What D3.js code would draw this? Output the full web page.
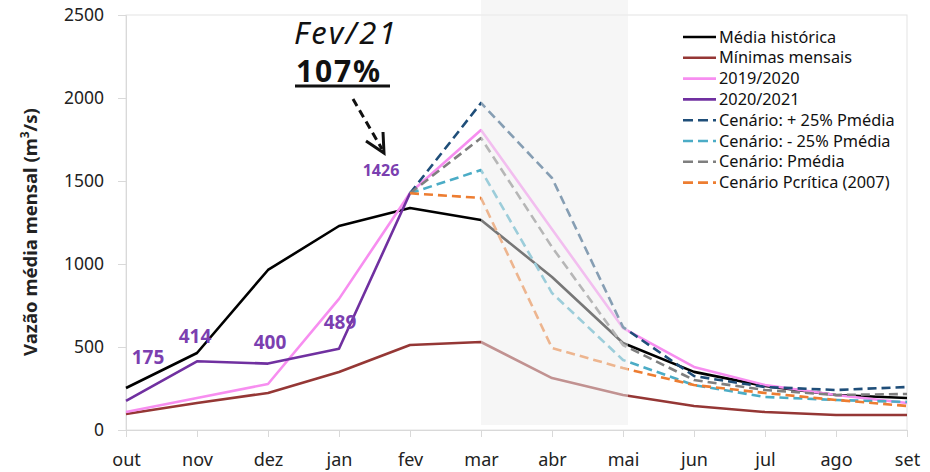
<!DOCTYPE html>
<html><head><meta charset="utf-8">
<script src="https://cdn.jsdelivr.net/npm/d3@7"></script>
<style>body{margin:0;background:#fff}svg{display:block}text{font-family:"Noto Sans",sans-serif}</style>
</head><body><svg id="c" width="930" height="472"></svg>
<script>
const months = ["out","nov","dez","jan","fev","mar","abr","mai","jun","jul","ago","set"];
const yTicks = [0,500,1000,1500,2000,2500];
const mediaHistorica = [253,464,964,1229,1337,1265,922,524,350,265,211,193];
const minimasMensais = [96,163,223,349,512,530,313,211,145,108,90,90];
const s2019_2020 = [108,193,277,790,1428,1807,1210,614,380,271,211,163];
const s2020_2021 = [175,414,400,489,1426,null,null,null,null,null,null,null];
const cenMais25 = [null,null,null,null,1426,1970,1518,620,325,259,241,259];
const cenMenos25 = [null,null,null,null,1426,1566,825,422,271,199,181,169];
const cenPmedia = [null,null,null,null,1426,1759,1102,512,301,241,211,217];
const cenPcritica = [null,null,null,null,1426,1398,494,373,271,223,181,145];
const dataLabels = [175,414,400,489,1426];

const series = [
  {name:"Média histórica", values:mediaHistorica, color:"#000000", dash:null},
  {name:"Mínimas mensais", values:minimasMensais, color:"#953735", dash:null},
  {name:"2019/2020", values:s2019_2020, color:"#f78ef0", dash:null},
  {name:"2020/2021", values:s2020_2021, color:"#7030a0", dash:null},
  {name:"Cenário: + 25% Pmédia", values:cenMais25, color:"#1f4e79", dash:"9,5"},
  {name:"Cenário: - 25% Pmédia", values:cenMenos25, color:"#4bacc6", dash:"9,5"},
  {name:"Cenário: Pmédia", values:cenPmedia, color:"#7f7f7f", dash:"9,5"},
  {name:"Cenário Pcrítica (2007)", values:cenPcritica, color:"#ed7d31", dash:"9,5"}
];

const svg = d3.select("#c");
const x = d3.scalePoint().domain(months).range([126,907]);
const y = d3.scaleLinear().domain([0,2500]).range([430,15]);

// frame
svg.append("rect").attr("x",126).attr("y",15).attr("width",907-126).attr("height",415)
  .attr("fill","none").attr("stroke","#e3e3e3").attr("stroke-width",1);

// y axis
const ya = svg.append("g").attr("transform","translate(126,0)")
  .call(d3.axisLeft(y).tickValues(yTicks).tickSize(8).tickPadding(14).tickFormat(d3.format("d")));
ya.select(".domain").attr("stroke","#d9d9d9");
ya.selectAll(".tick line").attr("stroke","#d9d9d9");
ya.selectAll("text").attr("font-size",17.5).attr("fill","#222");

// x axis
const xa = svg.append("g").attr("transform","translate(0,430)")
  .call(d3.axisBottom(x).tickSize(7).tickPadding(16));
xa.select(".domain").attr("stroke","#d9d9d9");
xa.selectAll(".tick line").attr("stroke","#d9d9d9");
xa.selectAll("text").attr("font-size",18).attr("fill","#222");

// y title
svg.append("text").attr("transform","translate(37,232) rotate(-90)")
  .attr("text-anchor","middle").attr("font-size",18.5).attr("font-weight","bold").attr("fill","#222")
  .html('Vazão média mensal (m<tspan baseline-shift="super" font-size="12">3</tspan>/s)');

// lines
const line = d3.line().defined(d=>d!=null).x((d,i)=>x(months[i])).y(d=>y(d));
series.forEach(s=>{
  svg.append("path").datum(s.values).attr("d",line)
    .attr("fill","none").attr("stroke",s.color).attr("stroke-width",2.6)
    .attr("stroke-dasharray",s.dash).attr("stroke-linejoin","round");
});

// shade overlay
svg.append("rect").attr("x",x("mar")).attr("y",0).attr("width",x("mai")-x("mar")+5).attr("height",425)
  .attr("fill","#eeeeee").attr("opacity",0.5);

// data labels
const labelPos = [[148,364],[195,343],[270,349],[340,329]];
dataLabels.slice(0,4).forEach((v,i)=>{
  svg.append("text").attr("x",labelPos[i][0]).attr("y",labelPos[i][1]).attr("text-anchor","middle")
    .attr("font-size",19).attr("font-weight","bold").attr("fill","#7b3fb0").text(v);
});
svg.append("text").attr("x",381).attr("y",176).attr("text-anchor","middle")
  .attr("font-size",16).attr("font-weight","bold").attr("fill","#7b3fb0").text(dataLabels[4]);

// annotation
svg.append("text").attr("x",294).attr("y",44).attr("font-family","Liberation Sans, Arial, sans-serif")
  .attr("font-size",31).attr("font-style","italic").attr("letter-spacing",2.5).attr("fill","#111").text("Fev/21");
svg.append("text").attr("x",296).attr("y",82).attr("font-family","Liberation Sans, Arial, sans-serif")
  .attr("font-size",30).attr("font-weight","bold").attr("letter-spacing",1.8).attr("fill","#111").text("107%");
svg.append("line").attr("x1",295).attr("x2",390).attr("y1",86).attr("y2",86).attr("stroke","#111").attr("stroke-width",3);
svg.append("line").attr("x1",353).attr("y1",99).attr("x2",382).attr("y2",149)
  .attr("stroke","#111").attr("stroke-width",3).attr("stroke-dasharray","8,5");
svg.append("path").attr("d","M366,141 L384,153 L383,132").attr("fill","none").attr("stroke","#111").attr("stroke-width",3);

// legend
const lg = svg.append("g");
series.forEach((s,i)=>{
  const yy = 37 + i*20.8;
  lg.append("line").attr("x1",683).attr("x2",716).attr("y1",yy).attr("y2",yy)
    .attr("stroke",s.color).attr("stroke-width",2.6).attr("stroke-dasharray",s.dash?"10,5":null);
  lg.append("text").attr("x",719).attr("y",yy+5.5).attr("font-size",16.3).attr("fill","#111").text(s.name);
});
</script></body></html>
